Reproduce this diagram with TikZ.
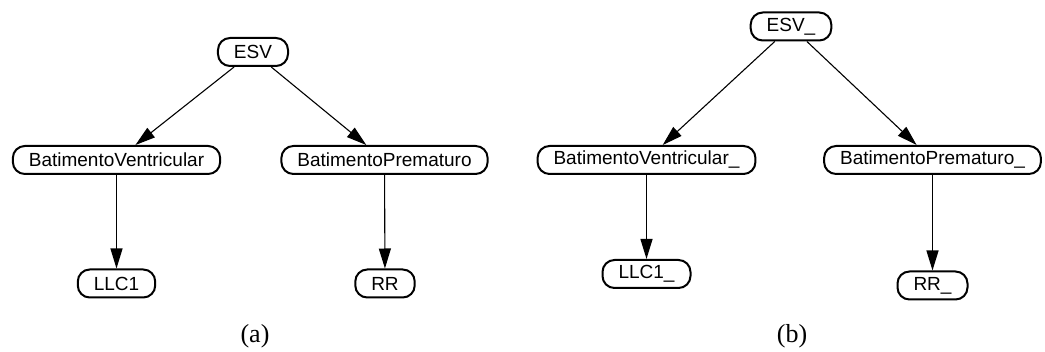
\documentclass[tikz,border=0pt]{standalone}
\usepackage{fontspec}
\usetikzlibrary{arrows.meta}
\newfontfamily\nodefont{Liberation Sans}
\newfontfamily\capfont{Liberation Serif}
\tikzset{
  bnode/.style={draw=black, line width=2pt, rounded corners=12pt, minimum height=28pt,
    inner xsep=16pt, inner ysep=0pt, font=\nodefont\fontsize{19}{22}\selectfont},
  arrowline/.style={line width=1.1pt, -{Triangle[length=20pt,width=12pt]}},
  captext/.style={font=\capfont\fontsize{26}{30}\selectfont, anchor=base, inner sep=0pt}
}
\begin{document}
\begin{tikzpicture}[x=1pt,y=-1pt]
\useasboundingbox (0,0) rectangle (1045,352);
% panel (a)
\node[bnode] (esv) at (253,52) {ESV};
\node[bnode] (bv) at (116.5,160) {BatimentoVentricular};
\node[bnode] (bp) at (384.5,160) {BatimentoPrematuro};
\node[bnode] (llc) at (116.5,283.5) {LLC1};
\node[bnode] (rr) at (385,283.5) {RR};
\draw[arrowline] (esv) -- (bv);
\draw[arrowline] (esv) -- (bp);
\draw[arrowline] (bv) -- (llc);
\draw[arrowline] (bp) -- (rr);
\node[captext] (capa) at (255,343) {(a)};
% panel (b)
\node[bnode] (esvb) at (791,26.5) {ESV\_};
\node[bnode] (bvb) at (646.5,160) {BatimentoVentricular\_};
\node[bnode] (bpb) at (932.5,160) {BatimentoPrematuro\_};
\node[bnode] (llcb) at (646.5,274) {LLC1\_};
\node[bnode] (rrb) at (932.5,285.5) {RR\_};
\draw[arrowline] (esvb) -- (bvb);
\draw[arrowline] (esvb) -- (bpb);
\draw[arrowline] (bvb) -- (llcb);
\draw[arrowline] (bpb) -- (rrb);
\node[captext] (capb) at (792,343) {(b)};
\end{tikzpicture}
\end{document}
